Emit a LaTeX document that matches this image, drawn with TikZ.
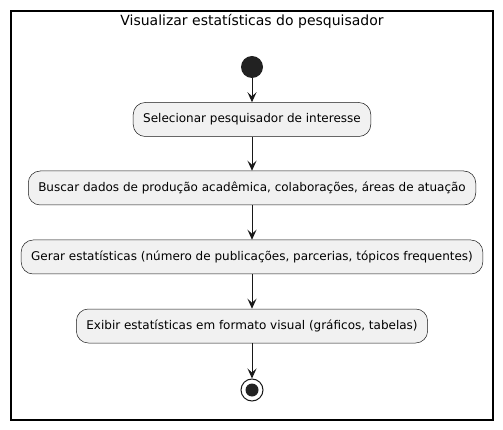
\documentclass[tikz,border=0pt]{standalone}
\usepackage{fontspec}
\setmainfont{DejaVu Sans}
\usepackage{tikz}
\usetikzlibrary{arrows.meta,shapes.geometric}
\definecolor{boxfill}{HTML}{F1F1F1}
\definecolor{ink}{HTML}{181818}
\definecolor{dot}{HTML}{222222}

\begin{document}
\begin{tikzpicture}[x=1pt,y=-1pt,
	acao/.style={draw=ink, line width=0.5pt, fill=boxfill, rounded corners=12pt,
		minimum height=34pt, inner xsep=10pt, font=\fontsize{12}{14}\selectfont},
	fluxo/.style={draw=ink, line width=1pt, -{Stealth[length=10pt,width=9pt,inset=4pt]}}]
	\useasboundingbox (0,0) rectangle (503,430);
	%quadro e titulo
	\draw [line width=1.5pt] (11,11) rectangle (493,420);
	\node (titulo) at (252,21) {\fontsize{14}{16}\selectfont Visualizar estatísticas do pesquisador};
	
	\node [circle, fill=dot, minimum size=22pt, inner sep=0pt] (inicio) at (252,67) {};
	\node [acao] (selecionar) at (252,119.5) {Selecionar pesquisador de interesse};
	\node [acao] (buscar) at (252,188) {Buscar dados de produção acadêmica, colaborações, áreas de atuação};
	\node [acao] (gerar) at (252,257) {Gerar estatísticas (número de publicações, parcerias, tópicos frequentes)};
	\node [acao] (exibir) at (252,326) {Exibir estatísticas em formato visual (gráficos, tabelas)};
	\node [circle, draw=ink, line width=1pt, fill=white, minimum size=22pt, inner sep=0pt] (fim) at (252,390) {};
	\fill [dot] (fim.center) circle [radius=6.5];
	
	\draw [fluxo] (inicio) -- (selecionar);
	\draw [fluxo] (selecionar) -- (buscar);
	\draw [fluxo] (buscar) -- (gerar);
	\draw [fluxo] (gerar) -- (exibir);
	\draw [fluxo] (exibir) -- (fim);
	
\end{tikzpicture}
\end{document}
